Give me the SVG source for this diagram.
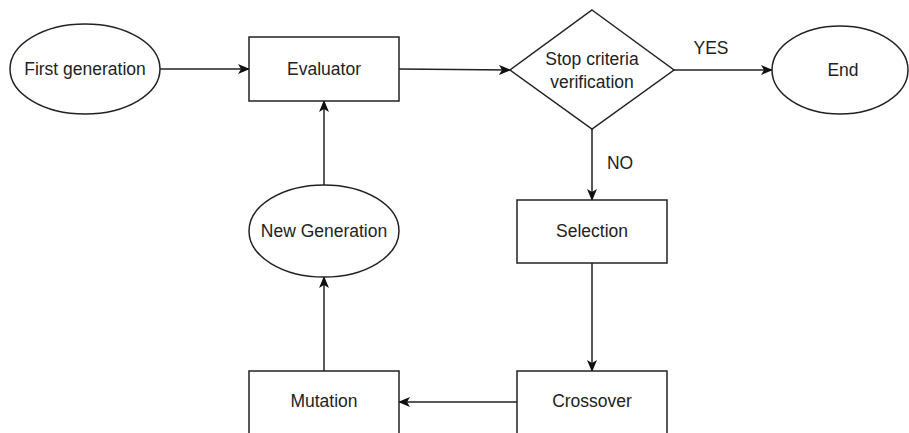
<svg xmlns="http://www.w3.org/2000/svg" width="909" height="433" viewBox="0 0 909 433">
  <style>
    .shape { fill: #ffffff; stroke: #222222; stroke-width: 1.5; }
    .edge { fill: none; stroke: #222222; stroke-width: 1.5; }
    .label { font-family: "Liberation Sans", Arial, sans-serif; font-size: 17.5px; fill: #222222; text-anchor: middle; dominant-baseline: central; }
  </style>
  <defs>
    <marker id="arrow" viewBox="0 0 12 10" refX="11" refY="5" markerWidth="12" markerHeight="10" markerUnits="userSpaceOnUse" orient="auto">
      <path d="M0,0 L12,5 L0,10 L3,5 Z" fill="#111111"/>
    </marker>
  </defs>
  <rect x="0" y="0" width="909" height="433" fill="#ffffff"/>

  <g id="connectors">
    <line class="edge" x1="160" y1="69" x2="249" y2="69" marker-end="url(#arrow)"/>
    <line class="edge" x1="399" y1="69" x2="510" y2="70" marker-end="url(#arrow)"/>
    <line class="edge" x1="674" y1="70" x2="772" y2="70" marker-end="url(#arrow)"/>
    <line class="edge" x1="592" y1="129" x2="592" y2="200" marker-end="url(#arrow)"/>
    <line class="edge" x1="592" y1="263" x2="592" y2="371" marker-end="url(#arrow)"/>
    <line class="edge" x1="517" y1="402" x2="399" y2="402" marker-end="url(#arrow)"/>
    <line class="edge" x1="324" y1="371" x2="324" y2="277" marker-end="url(#arrow)"/>
    <line class="edge" x1="324" y1="185" x2="324" y2="101" marker-end="url(#arrow)"/>
    <text class="label" x="711" y="48">YES</text>
    <text class="label" x="620" y="163">NO</text>
  </g>

  <g id="first-generation">
    <ellipse class="shape" cx="85" cy="69" rx="75" ry="45"/>
    <text class="label" x="85" y="69">First generation</text>
  </g>

  <g id="evaluator">
    <rect class="shape" x="249" y="37" width="150" height="64"/>
    <text class="label" x="324" y="69">Evaluator</text>
  </g>

  <g id="stop-criteria">
    <polygon class="shape" points="592,10 674,70 592,129 510,70"/>
    <text class="label" x="592" y="59">Stop criteria</text>
    <text class="label" x="592" y="82">verification</text>
  </g>

  <g id="end">
    <ellipse class="shape" cx="840" cy="70" rx="68" ry="44"/>
    <text class="label" x="843" y="70">End</text>
  </g>

  <g id="selection">
    <rect class="shape" x="517" y="200" width="150" height="63"/>
    <text class="label" x="592" y="231">Selection</text>
  </g>

  <g id="crossover">
    <rect class="shape" x="517" y="371" width="150" height="64"/>
    <text class="label" x="592" y="401">Crossover</text>
  </g>

  <g id="mutation">
    <rect class="shape" x="249" y="371" width="150" height="64"/>
    <text class="label" x="324" y="401">Mutation</text>
  </g>

  <g id="new-generation">
    <ellipse class="shape" cx="324" cy="231" rx="75" ry="46"/>
    <text class="label" x="324" y="231">New Generation</text>
  </g>
</svg>
